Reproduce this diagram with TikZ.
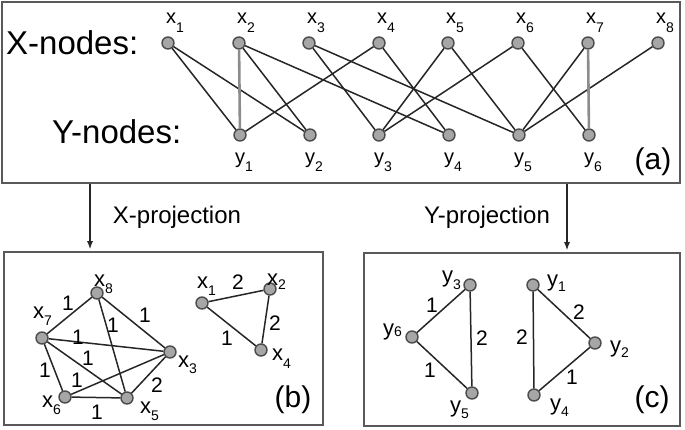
\documentclass[tikz,border=0pt]{standalone}
\usepackage{fontspec}
\setmainfont{Liberation Sans}
\usetikzlibrary{arrows.meta,calc}
\newcommand{\nlab}[3]{#1\raisebox{-#3}{\fontsize{14}{14}\selectfont #2}}
\begin{document}
\begin{tikzpicture}[x=1pt,y=-1pt,
  vtx/.style={circle,draw=black!70,fill=black!35,line width=1.4pt,minimum size=12pt,inner sep=0pt},
  edg/.style={draw=black!85,line width=1.5pt},
  vedg/.style={draw=black!45,line width=2.6pt},
  frame/.style={draw=black!65,line width=2.5pt,inner sep=0pt},
  lab/.style={font=\fontsize{20}{20}\selectfont,inner sep=0pt,anchor=base west},
  blab/.style={font=\fontsize{22}{22}\selectfont,inner sep=0pt,anchor=base west},
  wt/.style={font=\fontsize{21}{21}\selectfont,inner sep=0pt},
  big/.style={font=\fontsize{33}{33}\selectfont,inner sep=0pt,anchor=west},
  tag/.style={font=\fontsize{30}{30}\selectfont,inner sep=0pt},
  arr/.style={draw=black!85,line width=1.4pt,-{Latex[length=8pt,width=6pt]}},
  prj/.style={font=\fontsize{24}{24}\selectfont,inner sep=0pt}]
\useasboundingbox (0,0) rectangle (685,430);

% frames
\node[frame,minimum width=678pt,minimum height=181pt] (boxa) at (341,92.5) {};
\node[frame,minimum width=319pt,minimum height=173pt] (boxb) at (163.5,338.5) {};
\node[frame,minimum width=316pt,minimum height=173pt] (boxc) at (522,339.5) {};

% (a) bipartite graph
\node[big] (xn) at (6,43) {X-nodes:};
\node[big] (yn) at (52,132) {Y-nodes:};
\foreach \i/\px in {1/168,2/239,3/309,4/379,5/448,6/518,7/588,8/658}{
  \node[vtx] (x\i) at (\px,43) {};
  \node[lab] (lx\i) at (\px-2,24) {\nlab{x}{\i}{9pt}};
}
\foreach \i/\px in {1/240,2/310,3/379,4/449,5/519,6/589}{
  \node[vtx] (y\i) at (\px,135) {};
  \node[lab] (ly\i) at (\px-5,164) {\nlab{y}{\i}{8pt}};
}
\foreach \a/\b in {x1/y1,x1/y2,x2/y2,x2/y4,x3/y3,x3/y5,x4/y1,x4/y4,x5/y3,x5/y5,x6/y3,x6/y6,x7/y5,x8/y5}
  \draw[edg] (\a) -- (\b);
\draw[vedg] (x2) -- (y1);
\draw[vedg] (x7) -- (y6);
\node[tag] (ta) at (653,162) {(a)};

% projections
\coordinate (xa) at (90,0);
\coordinate (ya) at (567,0);
\draw[arr,shorten >=1.5pt] (boxa.south -| xa) -- (boxb.north -| xa);
\draw[arr,shorten >=1.5pt] (boxa.south -| ya) -- (boxc.north -| ya);
\node[prj] (px) at (177,217) {X-projection};
\node[prj] (py) at (487,217) {Y-projection};

% (b) X-projection
\node[vtx] (b8) at (97,293) {};
\node[vtx] (b7) at (42,338) {};
\node[vtx] (b3) at (170,352) {};
\node[vtx] (b6) at (65,397) {};
\node[vtx] (b5) at (127,398) {};
\node[vtx] (b1) at (202,303) {};
\node[vtx] (b2) at (270,289) {};
\node[vtx] (b4) at (261,350) {};
\node[blab] (lb8) at (94,287) {\nlab{x}{8}{6pt}};
\node[blab] (lb7) at (33,318) {\nlab{x}{7}{7pt}};
\node[blab] (lb3) at (178,367) {\nlab{x}{3}{6pt}};
\node[blab] (lb6) at (42,407) {\nlab{x}{6}{7pt}};
\node[blab] (lb5) at (140,413) {\nlab{x}{5}{7pt}};
\node[blab] (lb1) at (197,288) {\nlab{x}{1}{7pt}};
\node[blab] (lb2) at (267,285) {\nlab{x}{2}{5pt}};
\node[blab] (lb4) at (272,360) {\nlab{x}{4}{8pt}};
\foreach \a/\b in {b7/b8,b8/b3,b8/b5,b7/b3,b7/b5,b7/b6,b6/b3,b6/b5,b5/b3,b1/b2,b2/b4,b1/b4}
  \draw[edg] (\a) -- (\b);
\node[wt] (w1) at (68,303) {1};
\node[wt] (w2) at (145,315) {1};
\node[wt] (w3) at (113,325) {1};
\node[wt] (w4) at (78,337) {1};
\node[wt] (w5) at (88,358) {1};
\node[wt] (w6) at (45,370) {1};
\node[wt] (w7) at (77,380) {1};
\node[wt] (w8) at (97,412) {1};
\node[wt] (w9) at (157,385) {2};
\node[wt] (w10) at (238,282) {2};
\node[wt] (w11) at (275,323) {2};
\node[wt] (w12) at (227,338) {1};
\node[tag] (tb) at (293,400) {(b)};

% (c) Y-projection
\node[vtx] (c3) at (470,285) {};
\node[vtx] (c6) at (412,337) {};
\node[vtx] (c5) at (472,393) {};
\node[vtx] (c1) at (533,285) {};
\node[vtx] (c2) at (595,343) {};
\node[vtx] (c4) at (534,395) {};
\node[blab] (lc3) at (442,283) {\nlab{y}{3}{6pt}};
\node[blab] (lc6) at (383,335) {\nlab{y}{6}{1pt}};
\node[blab] (lc5) at (450,412) {\nlab{y}{5}{6pt}};
\node[blab] (lc1) at (547,287) {\nlab{y}{1}{5pt}};
\node[blab] (lc2) at (610,352) {\nlab{y}{2}{5pt}};
\node[blab] (lc4) at (550,410) {\nlab{y}{4}{6pt}};
\foreach \a/\b in {c3/c6,c6/c5,c3/c5,c1/c4,c1/c2,c2/c4}
  \draw[edg] (\a) -- (\b);
\node[wt] (v1) at (432,305) {1};
\node[wt] (v2) at (430,370) {1};
\node[wt] (v3) at (482,338) {2};
\node[wt] (v4) at (522,337) {2};
\node[wt] (v5) at (579,312) {2};
\node[wt] (v6) at (572,377) {1};
\node[tag] (tc) at (652,400) {(c)};
\end{tikzpicture}
\end{document}
